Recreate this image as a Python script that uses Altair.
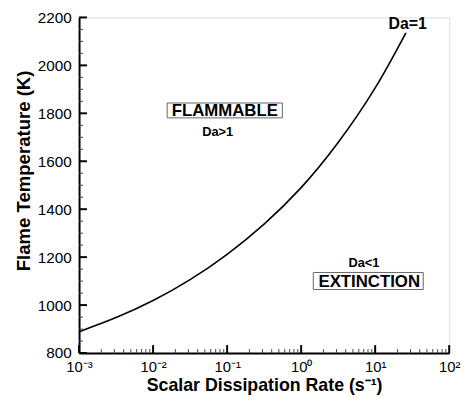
import altair as alt
import pandas as pd

# ---- data ----
rate = [0.001, 0.00316, 0.01, 0.0316, 0.1, 0.316, 1.0, 3.16, 10.0, 26.0]
temp = [889, 948, 1019, 1106, 1212, 1338, 1490, 1678, 1906, 2136]

x_major = [0.001, 0.01, 0.1, 1, 10, 100]
x_labels = ["10⁻³", "10⁻²", "10⁻¹", "10⁰", "10¹", "10²"]
x_minor = [m * d for d in [0.001, 0.01, 0.1, 1, 10] for m in range(2, 10)]
y_major = list(range(800, 2201, 200))
y_minor = [v for v in range(850, 2200, 50) if v % 200]

big_text = ["Da=1"]
big_rate = [27.5]
big_temp = [2171]

box_text = ["FLAMMABLE", "EXTINCTION"]
box_rate = [0.0931, 8.32]
box_temp = [1809, 1098]
box_rate_lo = [0.0155, 1.459]
box_rate_hi = [0.558, 44.6]
box_temp_lo = [1781, 1065]
box_temp_hi = [1843, 1136]

small_text = ["Da>1", "Da<1"]
small_rate = [0.0747, 7.06]
small_temp = [1722, 1175]

FONT = "Liberation Sans"

label_expr = " : ".join(
    f"abs(datum.value - {v}) < {v} * 0.01 ? '{l}'" for v, l in zip(x_major, x_labels)
) + " : ''"

xscale = alt.Scale(type="log", domain=[0.001, 100], nice=False)
yscale = alt.Scale(domain=[800, 2200], nice=False, zero=False)

xaxis = alt.Axis(
    values=x_major, labelExpr=label_expr, ticks=False, grid=False,
    domainColor="black", domainWidth=2, labelFont=FONT, labelFontSize=15,
    labelColor="black", labelPadding=7, labelFlush=False,
    title="Scalar Dissipation Rate (s⁻¹)", titleFont=FONT, titleFontSize=18,
    titleFontWeight="bold", titleColor="black", titleBaseline="alphabetic",
    titleY=38,
)
yaxis = alt.Axis(
    values=y_major, format="d", ticks=False, grid=False, domainColor="black",
    domainWidth=2, labelFont=FONT, labelFontSize=15.5, labelColor="black",
    labelPadding=8, labelFlush=False,
    title="Flame Temperature (K)", titleFont=FONT, titleFontSize=18.8,
    titleFontWeight="bold", titleColor="black", titleAngle=-90,
    titleBaseline="middle", titleX=-56, titleY=155, titleAlign="center",
)


def X(f):
    return alt.X(f, type="quantitative", scale=xscale, axis=xaxis)


def Y(f):
    return alt.Y(f, type="quantitative", scale=yscale, axis=yaxis)


curve = alt.Chart(pd.DataFrame({"rate": rate, "temp": temp})).mark_line(
    color="black", strokeWidth=1.6, interpolate="natural"
).encode(x=X("rate"), y=Y("temp"))

ymaj = alt.Chart(pd.DataFrame({"temp": y_major})).mark_rule(
    color="black", strokeWidth=2
).encode(y=Y("temp"), x=alt.value(0), x2=alt.value(8))
ymin = alt.Chart(pd.DataFrame({"temp": y_minor})).mark_rule(
    color="#444", strokeWidth=1
).encode(y=Y("temp"), x=alt.value(0), x2=alt.value(4))
xmaj = alt.Chart(pd.DataFrame({"rate": x_major})).mark_rule(
    color="black", strokeWidth=2
).encode(x=X("rate"), y=alt.value(340), y2=alt.value(332))
xmin = alt.Chart(pd.DataFrame({"rate": x_minor})).mark_rule(
    color="#444", strokeWidth=1
).encode(x=X("rate"), y=alt.value(340), y2=alt.value(336))

boxes = alt.Chart(pd.DataFrame({
    "rate": box_rate_lo, "rate2": box_rate_hi,
    "temp": box_temp_lo, "temp2": box_temp_hi,
})).mark_rect(fill="white", stroke="#666", strokeWidth=1).encode(
    x=X("rate"), x2="rate2", y=Y("temp"), y2="temp2"
)

big = alt.Chart(pd.DataFrame({"rate": big_rate, "temp": big_temp, "t": big_text})).mark_text(
    font=FONT, fontSize=16, fontWeight="bold", color="black", baseline="middle"
).encode(x=X("rate"), y=Y("temp"), text="t:N")

boxt = alt.Chart(pd.DataFrame({"rate": box_rate, "temp": box_temp, "t": box_text})).mark_text(
    font=FONT, fontSize=17, fontWeight="bold", color="black", baseline="middle"
).encode(x=X("rate"), y=Y("temp"), text="t:N")

small = alt.Chart(pd.DataFrame({"rate": small_rate, "temp": small_temp, "t": small_text})).mark_text(
    font=FONT, fontSize=13, fontWeight="bold", color="black", baseline="middle"
).encode(x=X("rate"), y=Y("temp"), text="t:N")

chart = alt.layer(
    ymin, ymaj, xmin, xmaj, curve, boxes, big, boxt, small
).properties(
    width=375, height=340,
    autosize=alt.AutoSizeParams(type="none"),
    padding={"left": 72, "top": 7, "right": 15, "bottom": 42},
).configure_view(stroke=None).configure(background="white")

chart.save("out.html", embed_options={"renderer": "svg", "actions": False})
